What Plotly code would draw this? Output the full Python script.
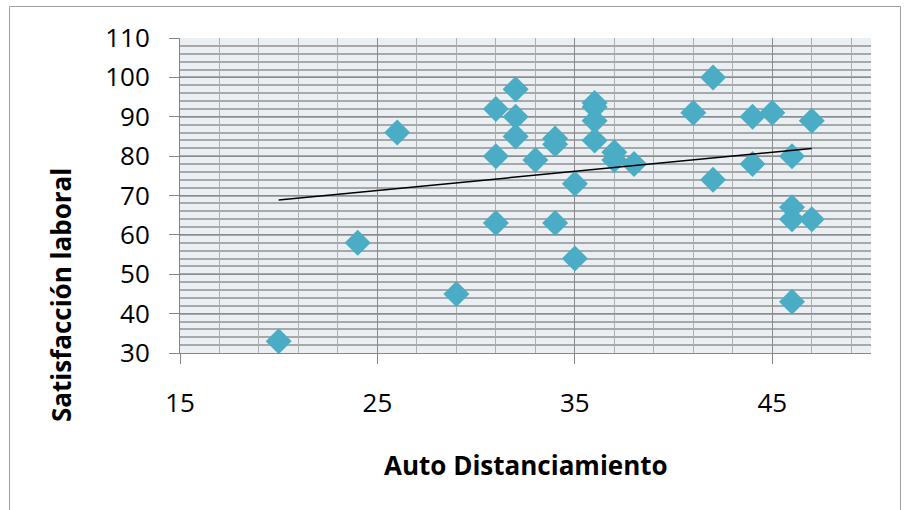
import numpy as np
import plotly.graph_objects as go

# Data
auto_distanciamiento = [20, 24, 26, 29, 31, 31, 31, 32, 32, 32, 33, 34, 34, 34, 35, 35,
                        36, 36, 36, 36, 37, 37, 38, 41, 42, 42, 44, 44, 45, 46, 46, 46, 46, 47, 47]
satisfaccion_laboral = [33, 58, 86, 45, 92, 80, 63, 97, 90, 85, 79, 84.5, 83, 63, 73, 54,
                        93.5, 92.5, 89, 84, 81, 79, 78, 91, 100, 74, 90, 78, 91, 80, 67, 64, 43, 89, 64]
x_ticks = [15, 25, 35, 45]
y_ticks = [30, 40, 50, 60, 70, 80, 90, 100, 110]

x = np.array(auto_distanciamiento, dtype=float)
y = np.array(satisfaccion_laboral, dtype=float)
slope, intercept = np.polyfit(x, y, 1)
trend_x = [x.min(), x.max()]
trend_y = [slope * v + intercept for v in trend_x]

fig = go.Figure()
fig.add_trace(go.Scatter(
    x=auto_distanciamiento, y=satisfaccion_laboral, mode="markers",
    marker=dict(symbol="diamond", size=20, color="#4BACC6", line=dict(width=0)),
    showlegend=False))
fig.add_trace(go.Scatter(
    x=trend_x, y=trend_y, mode="lines",
    line=dict(color="black", width=1.5), showlegend=False))

L, R, T, B = 180, 40, 38, 157
W, H = 911, 510
pw, ph = W - L - R, H - T - B

def px2paper_x(px):
    return (px - L) / pw

def px2paper_y(py):
    return (H - B - py) / ph

fig.update_layout(
    width=W, height=H,
    margin=dict(l=L, r=R, t=T, b=B, autoexpand=False),
    paper_bgcolor="white",
    plot_bgcolor="#E9EFF3",
    font=dict(family="Open Sans", size=26, color="black"),
    xaxis=dict(
        range=[15, 50], tickmode="array", tickvals=x_ticks,
        ticks="outside", ticklen=10, tickcolor="#868686", tickwidth=1,
        showgrid=True, gridcolor="#8C8C8C", gridwidth=1,
        showline=True, linecolor="#868686", linewidth=1,
        zeroline=False, ticklabelstandoff=17, automargin=False,
        minor=dict(tick0=15, dtick=2, showgrid=True, gridcolor="#B0B0B0", gridwidth=1.3),
    ),
    yaxis=dict(
        range=[30, 110], tickmode="array", tickvals=y_ticks,
        ticks="outside", ticklen=10, tickcolor="#868686", tickwidth=1,
        showgrid=True, gridcolor="#8C8C8C", gridwidth=1,
        showline=True, linecolor="#868686", linewidth=1,
        zeroline=False, ticklabelstandoff=14, automargin=False,
        minor=dict(tick0=30, dtick=2, showgrid=True, gridcolor="#A8A8A8", gridwidth=1.5),
    ),
    annotations=[
        dict(text="<b>Auto Distanciamiento</b>", xref="paper", yref="paper",
             x=0.5, y=px2paper_y(465), showarrow=False,
             font=dict(family="Open Sans", size=26), xanchor="center", yanchor="middle"),
        dict(text="<b>Satisfacción laboral</b>", xref="paper", yref="paper",
             x=px2paper_x(61), y=px2paper_y(295), showarrow=False, textangle=-90,
             font=dict(family="Open Sans", size=26), xanchor="center", yanchor="middle"),
    ],
    shapes=[
        dict(type="rect", xref="paper", yref="paper",
             x0=px2paper_x(9.5), x1=px2paper_x(900.5),
             y0=px2paper_y(515), y1=px2paper_y(6.5),
             line=dict(color="#A0A0A0", width=1), fillcolor="rgba(0,0,0,0)", layer="below"),
    ],
)

fig.write_html("out.html", config={"displayModeBar": False},
               post_script="document.body.style.margin='0px';")
